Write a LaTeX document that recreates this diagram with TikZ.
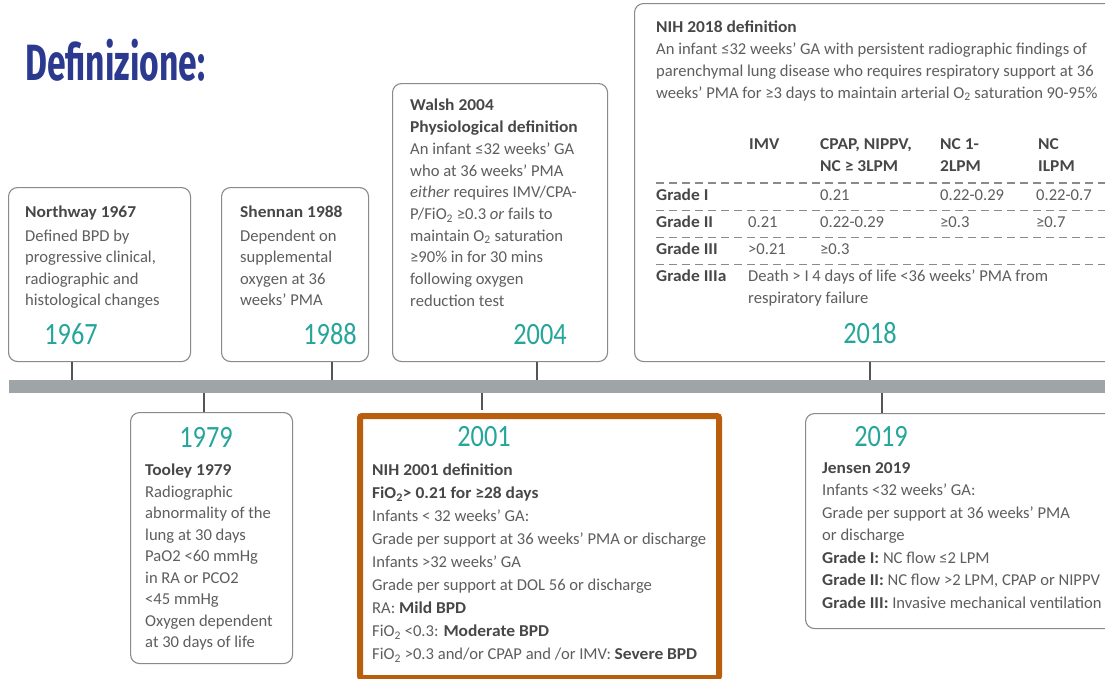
\documentclass[tikz,border=0pt]{standalone}
\usepackage{fontspec}
\usepackage{graphicx}
\setmainfont{Carlito}
\newfontfamily\firafont{Fira Sans}
\definecolor{boxgray}{HTML}{8A8A8A}
\definecolor{bargray}{HTML}{9FA5A7}
\definecolor{tickgray}{HTML}{555555}
\definecolor{txtcol}{HTML}{5E5E5E}
\definecolor{headcol}{HTML}{474747}
\definecolor{yrteal}{HTML}{26A69B}
\definecolor{orangebox}{HTML}{B85E0C}
\definecolor{titleblue}{HTML}{2B3A8F}
\newcommand\hd[1]{{\bfseries\color{headcol}\scalebox{1.05}[1]{#1}}}
\newcommand\yrtxt[1]{\scalebox{0.85}[1]{#1}}
\newcommand\sub[1]{\textsubscript{#1}}
\begin{document}
\begin{tikzpicture}[x=1pt,y=-1pt,
  box/.style={draw=boxgray, line width=1.1pt, rounded corners=9pt, fill=white, anchor=north west, inner sep=0pt},
  hibox/.style={draw=orangebox, line width=6pt, rounded corners=2pt, fill=white, anchor=north west, inner sep=0pt},
  txt/.style={anchor=north west, inner sep=0pt, align=left, text=txtcol, font=\fontsize{16.6}{#1}\selectfont},
  txt/.default=21.5,
  cell/.style={anchor=base west, inner sep=0pt, text=txtcol, font=\fontsize{16.6}{18}\selectfont},
  yr/.style={anchor=center, inner sep=0pt, text=yrteal, font=\fontsize{31}{31}\selectfont},
  tick/.style={draw=tickgray, line width=1.4pt},
  rule/.style={draw=boxgray, line width=1.1pt, dash pattern=on 8pt off 5pt}]
\useasboundingbox (0,0) rectangle (1105,678);
\clip (0,0) rectangle (1105,678);

% title
\node[anchor=base west, inner sep=0pt, text=titleblue] (title) at (25,80)
  {\scalebox{0.66}[1]{\fontsize{51}{51}\selectfont\firafont\bfseries Definizione:}};

% timeline bar
\node[fill=bargray, anchor=north west, inner sep=0pt, minimum width=1100pt, minimum height=13pt] (bar) at (9,380) {};

% boxes
\node[box, minimum width=182pt, minimum height=174pt] (b1967) at (8,187) {};
\node[box, minimum width=147pt, minimum height=174pt] (b1988) at (221,187) {};
\node[box, minimum width=215pt, minimum height=278pt] (b2004) at (392,83) {};
\node[box, minimum width=500pt, minimum height=358pt] (b2018) at (634,3) {};
\node[box, minimum width=162pt, minimum height=251pt] (b1979) at (130,412) {};
\node[hibox, minimum width=359pt, minimum height=262pt] (b2001) at (357,413) {};
\node[box, minimum width=400pt, minimum height=215pt] (b2019) at (805,413) {};

% tick positions
\coordinate (x1967) at (72,0);
\coordinate (x1988) at (332,0);
\coordinate (x2004) at (537,0);
\coordinate (x2018) at (870,0);
\coordinate (x1979) at (204,0);
\coordinate (x2001) at (482,0);
\coordinate (x2019) at (882,0);
\draw[tick] (b1967.south -| x1967) -- (bar.north -| x1967);
\draw[tick] (b1988.south -| x1988) -- (bar.north -| x1988);
\draw[tick] (b2004.south -| x2004) -- (bar.north -| x2004);
\draw[tick] (b2018.south -| x2018) -- (bar.north -| x2018);
\draw[tick] (bar.south -| x1979) -- (b1979.north -| x1979);
\draw[tick] (bar.south -| x2001) -- ([yshift=3pt]b2001.north -| x2001);
\draw[tick] (bar.south -| x2019) -- (b2019.north -| x2019);

% years
\node[yr] (y1967) at (71,334) {\yrtxt{1967}};
\node[yr] (y1988) at (330,334) {\yrtxt{1988}};
\node[yr] (y2004) at (540,335) {\yrtxt{2004}};
\node[yr] (y2018) at (870,333) {\yrtxt{2018}};
\node[yr] (y1979) at (206,437) {\yrtxt{1979}};
\node[yr] (y2001) at (484,437) {\yrtxt{2001}};
\node[yr] (y2019) at (881,437) {\yrtxt{2019}};

% texts
\node[txt] (t1967) at (25,202.5) {\strut\hd{Northway 1967}\\[2pt]Defined BPD by\\progressive clinical,\\radiographic and\\histological changes};
\node[txt] (t1988) at (240,202.5) {\strut\hd{Shennan 1988}\\[2pt]Dependent on\\supplemental\\oxygen at 36\\weeks’ PMA};
\node[txt=21.7] (t2004) at (410,95.6) {\strut\hd{Walsh 2004}\\\hd{Physiological definition}\\An infant ≤32 weeks’ GA\\who at 36 weeks’ PMA\\\textit{either} requires IMV/CPA-\\P/FiO\sub{2} ≥0.3 \textit{or} fails to\\maintain O\sub{2} saturation\\≥90\% in for 30 mins\\following oxygen\\reduction test};
\node[txt=22] (t2018) at (656,16.5) {\strut\hd{NIH 2018 definition}\\An infant ≤32 weeks’ GA with persistent radiographic findings of\\parenchymal lung disease who requires respiratory support at 36\\weeks’ PMA for ≥3 days to maintain arterial O\sub{2} saturation 90-95\%};
\node[txt] (t1979) at (145,460.5) {\strut\hd{Tooley 1979}\\Radiographic\\abnormality of the\\lung at 30 days\\PaO2 <60 mmHg\\in RA or PCO2\\<45 mmHg\\Oxygen dependent\\at 30 days of life};
\node[txt=23] (t2001) at (372,459.6) {\strut\hd{NIH 2001 definition}\\\hd{FiO\sub{2}> 0.21 for ≥28 days}\\Infants < 32 weeks’ GA:\\Grade per support at 36 weeks’ PMA or discharge\\Infants >32 weeks’ GA\\Grade per support at DOL 56 or discharge\\RA: \hd{Mild BPD}\\FiO\sub{2} <0.3: \hd{Moderate BPD}\\FiO\sub{2} >0.3 and/or CPAP and /or IMV: \hd{Severe BPD}};
\node[txt=22.5] (t2019) at (822,457.5) {\strut\hd{Jensen 2019}\\Infants <32 weeks’ GA:\\Grade per support at 36 weeks’ PMA\\or discharge\\\hd{Grade I:} NC flow ≤2 LPM\\\hd{Grade II:} NC flow >2 LPM, CPAP or NIPPV\\\hd{Grade III:} Invasive mechanical ventilation};

% 2018 table
\node[cell] (h1) at (749,149.5) {\hd{IMV}};
\node[cell] (h2a) at (820,149.5) {\hd{CPAP, NIPPV,}};
\node[cell] (h2b) at (820,171.5) {\hd{NC ≥ 3LPM}};
\node[cell] (h3a) at (940,149.5) {\hd{NC 1-}};
\node[cell] (h3b) at (940,171.5) {\hd{2LPM}};
\node[cell] (h4a) at (1038,149.5) {\hd{NC}};
\node[cell] (h4b) at (1038,171.5) {\hd{ILPM}};

\draw[rule] (656,183) -- (1110,183);
\draw[rule] (656,210.5) -- (1110,210.5);
\draw[rule] (656,237.5) -- (1110,237.5);
\draw[rule] (656,264.5) -- (1110,264.5);

\node[cell] (g1) at (656,200.5) {\hd{Grade I}};
\node[cell] (g1b) at (820,200.5) {0.21};
\node[cell] (g1c) at (940,200.5) {0.22-0.29};
\node[cell] (g1d) at (1036,200.5) {0.22-0.7};

\node[cell] (g2) at (656,227) {\hd{Grade II}};
\node[cell] (g2a) at (748,227) {0.21};
\node[cell] (g2b) at (820,227) {0.22-0.29};
\node[cell] (g2c) at (940,227) {≥0.3};
\node[cell] (g2d) at (1036,227) {≥0.7};

\node[cell] (g3) at (656,254) {\hd{Grade III}};
\node[cell] (g3a) at (748,254) {>0.21};
\node[cell] (g3b) at (820,254) {≥0.3};

\node[cell] (g4) at (656,281) {\hd{Grade IIIa}};
\node[cell] (g4a) at (748,281) {Death > I 4 days of life <36 weeks’ PMA from};
\node[cell] (g4b) at (748,303) {respiratory failure};
\end{tikzpicture}
\end{document}
